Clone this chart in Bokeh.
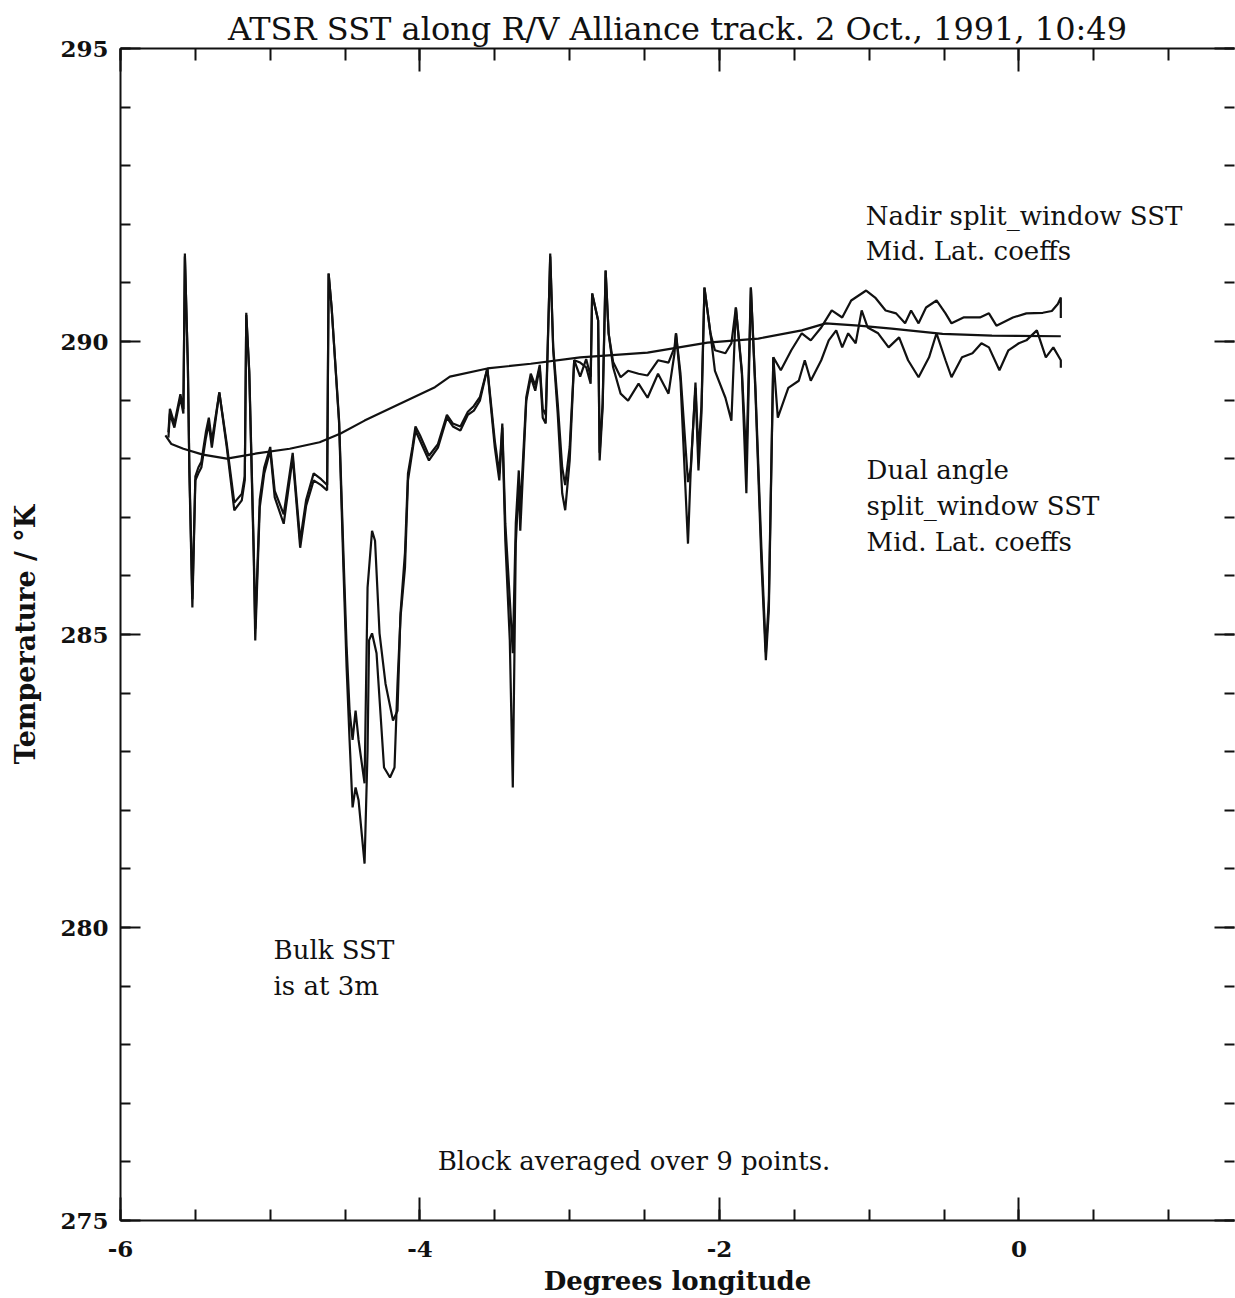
from bokeh.plotting import figure
from bokeh.models import (Range1d, LinearAxis, SingleIntervalTicker, Label,
                          CustomJSTickFormatter, ColumnDataSource)
from bokeh.embed import file_html
from bokeh.resources import INLINE

# ---------------- data (longitude in degrees, temperature in K) -------------
bulk_lon = [-5.70, -5.66, -5.58, -5.45, -5.29, -5.09, -4.87, -4.67, -4.53, -4.37,
            -4.13, -3.90, -3.80, -3.55, -3.26, -2.93, -2.48, -2.08, -1.74, -1.45,
            -1.29, -1.07, -0.85, -0.51, -0.18, 0.28]
bulk_sst = [288.40, 288.25, 288.17, 288.07, 288.00, 288.09, 288.17, 288.28, 288.43, 288.65,
            288.94, 289.22, 289.40, 289.54, 289.62, 289.73, 289.81, 289.98, 290.05, 290.19,
            290.31, 290.27, 290.22, 290.13, 290.10, 290.09]

dual_lon = [-5.68, -5.67, -5.64, -5.60, -5.58, -5.57, -5.55, -5.54, -5.52, -5.50,
            -5.48, -5.46, -5.43, -5.41, -5.39, -5.34, -5.29, -5.24, -5.19, -5.17,
            -5.16, -5.14, -5.11, -5.10, -5.07, -5.04, -5.00, -4.97, -4.91, -4.85,
            -4.80, -4.76, -4.71, -4.66, -4.62, -4.61, -4.59, -4.54, -4.51, -4.49,
            -4.47, -4.45, -4.43, -4.41, -4.37, -4.35, -4.34, -4.32, -4.29, -4.24,
            -4.20, -4.17, -4.15, -4.13, -4.10, -4.08, -4.05, -4.03, -4.00, -3.94,
            -3.88, -3.82, -3.78, -3.73, -3.68, -3.64, -3.60, -3.55, -3.53, -3.50,
            -3.47, -3.45, -3.43, -3.40, -3.38, -3.36, -3.34, -3.33, -3.29, -3.26,
            -3.23, -3.20, -3.18, -3.16, -3.13, -3.11, -3.08, -3.05, -3.03, -3.00,
            -2.97, -2.93, -2.89, -2.86, -2.85, -2.81, -2.80, -2.78, -2.76, -2.74,
            -2.71, -2.66, -2.61, -2.54, -2.48, -2.41, -2.34, -2.30, -2.29, -2.26,
            -2.21, -2.19, -2.16, -2.14, -2.12, -2.10, -2.06, -2.03, -1.96, -1.92,
            -1.89, -1.85, -1.82, -1.79, -1.76, -1.72, -1.69, -1.67, -1.64, -1.61,
            -1.54, -1.47, -1.43, -1.39, -1.32, -1.27, -1.22, -1.18, -1.14, -1.09,
            -1.05, -1.01, -0.94, -0.87, -0.80, -0.74, -0.67, -0.60, -0.55, -0.49,
            -0.45, -0.38, -0.31, -0.25, -0.20, -0.13, -0.07, 0.00, 0.05, 0.12,
            0.18, 0.23, 0.28, 0.28]
dual_sst = [288.36, 288.77, 288.53, 289.04, 288.77, 291.50, 289.56, 287.75, 285.46, 287.63,
            287.75, 287.85, 288.35, 288.60, 288.19, 289.13, 288.19, 287.12, 287.29, 287.63,
            290.49, 289.45, 286.31, 284.90, 287.17, 287.75, 288.14, 287.34, 286.89, 288.02,
            286.48, 287.20, 287.63, 287.55, 287.46, 291.16, 290.58, 288.60, 286.04, 284.44,
            283.19, 282.05, 282.39, 282.17, 281.09, 283.02, 284.90, 285.02, 284.68, 282.73,
            282.56, 282.73, 284.16, 285.29, 286.14, 287.63, 288.14, 288.48, 288.31, 287.97,
            288.19, 288.70, 288.55, 288.48, 288.75, 288.82, 288.99, 289.54, 288.99, 288.19,
            287.63, 288.53, 286.60, 284.90, 282.39, 286.55, 287.60, 286.77, 288.99, 289.39,
            289.16, 289.56, 288.70, 288.60, 291.50, 289.85, 288.77, 287.41, 287.12, 287.97,
            289.68, 289.64, 289.56, 289.28, 290.82, 290.36, 287.97, 288.87, 291.21, 290.14,
            289.56, 289.11, 288.99, 289.28, 289.04, 289.45, 289.11, 289.80, 290.14, 289.33,
            286.55, 287.92, 289.21, 287.80, 288.77, 290.92, 290.14, 289.50, 289.04, 288.65,
            290.58, 289.45, 287.41, 290.92, 289.16, 286.26, 284.56, 285.41, 289.73, 288.70,
            289.21, 289.33, 289.68, 289.33, 289.68, 290.02, 290.19, 289.90, 290.14, 289.97,
            290.53, 290.24, 290.14, 289.90, 290.07, 289.68, 289.39, 289.73, 290.14, 289.68,
            289.39, 289.73, 289.80, 289.97, 289.90, 289.51, 289.85, 289.97, 290.02, 290.19,
            289.73, 289.90, 289.68, 289.55]

nadir_lon = [-5.68, -5.67, -5.64, -5.60, -5.58, -5.57, -5.55, -5.54, -5.52, -5.50,
             -5.48, -5.46, -5.43, -5.41, -5.39, -5.34, -5.29, -5.24, -5.19, -5.17,
             -5.16, -5.14, -5.11, -5.10, -5.07, -5.04, -5.00, -4.97, -4.91, -4.85,
             -4.80, -4.76, -4.71, -4.66, -4.62, -4.61, -4.59, -4.54, -4.51, -4.49,
             -4.47, -4.45, -4.43, -4.41, -4.37, -4.35, -4.32, -4.30, -4.27, -4.23,
             -4.18, -4.15, -4.13, -4.10, -4.08, -4.05, -4.03, -4.00, -3.94, -3.88,
             -3.82, -3.78, -3.73, -3.68, -3.64, -3.60, -3.55, -3.53, -3.50, -3.47,
             -3.45, -3.43, -3.40, -3.38, -3.36, -3.34, -3.33, -3.29, -3.26, -3.23,
             -3.20, -3.18, -3.16, -3.13, -3.11, -3.08, -3.05, -3.03, -3.00, -2.97,
             -2.93, -2.89, -2.86, -2.85, -2.81, -2.80, -2.78, -2.76, -2.74, -2.71,
             -2.66, -2.61, -2.54, -2.48, -2.41, -2.34, -2.30, -2.29, -2.26, -2.21,
             -2.19, -2.16, -2.14, -2.12, -2.10, -2.06, -2.03, -1.96, -1.92, -1.89,
             -1.85, -1.82, -1.79, -1.76, -1.72, -1.69, -1.67, -1.64, -1.59, -1.52,
             -1.45, -1.39, -1.32, -1.25, -1.18, -1.12, -1.02, -0.96, -0.89, -0.82,
             -0.76, -0.72, -0.67, -0.62, -0.55, -0.49, -0.45, -0.37, -0.26, -0.20,
             -0.15, -0.04, 0.05, 0.16, 0.22, 0.26, 0.28, 0.28]
nadir_sst = [288.45, 288.85, 288.60, 289.10, 288.85, 291.45, 289.60, 287.85, 285.60, 287.70,
             287.85, 287.95, 288.45, 288.70, 288.30, 289.13, 288.25, 287.25, 287.40, 287.70,
             290.45, 289.50, 286.45, 285.10, 287.30, 287.85, 288.20, 287.45, 287.05, 288.10,
             286.60, 287.30, 287.75, 287.65, 287.55, 291.16, 290.58, 288.65, 286.30, 284.80,
             283.70, 283.20, 283.70, 283.20, 282.46, 285.80, 286.77, 286.60, 285.02, 284.16,
             283.53, 283.70, 285.36, 286.40, 287.75, 288.20, 288.55, 288.40, 288.05, 288.25,
             288.75, 288.60, 288.55, 288.80, 288.90, 289.05, 289.54, 289.05, 288.30, 287.75,
             288.60, 286.90, 285.60, 284.68, 286.90, 287.80, 287.10, 289.05, 289.45, 289.25,
             289.60, 288.85, 288.75, 291.45, 289.90, 288.95, 287.85, 287.55, 288.20, 289.68,
             289.40, 289.70, 289.40, 290.82, 290.36, 288.10, 288.95, 291.21, 290.14, 289.65,
             289.39, 289.50, 289.45, 289.42, 289.68, 289.64, 289.90, 290.14, 289.45, 287.60,
             287.85, 289.30, 288.10, 288.90, 290.92, 290.14, 289.85, 289.80, 289.97, 290.58,
             289.50, 287.97, 290.92, 289.25, 286.50, 284.70, 285.60, 289.73, 289.51, 289.85,
             290.14, 290.02, 290.24, 290.53, 290.41, 290.70, 290.87, 290.75, 290.53, 290.48,
             290.31, 290.53, 290.31, 290.58, 290.70, 290.48, 290.31, 290.41, 290.41, 290.48,
             290.27, 290.41, 290.48, 290.49, 290.52, 290.64, 290.75, 290.40]

x_major_ticks_interval = 2
y_major_ticks_interval = 5

title_text = "ATSR SST along R/V Alliance track. 2 Oct., 1991, 10:49"
x_label = "Degrees longitude"
y_label = "Temperature / \u00b0K"

# ---------------- figure ----------------
INK = "#111111"
p = figure(width=1235, height=1298, output_backend="svg", toolbar_location=None,
           x_range=Range1d(-6, 1.44), y_range=Range1d(275, 295),
           min_border_left=120, min_border_right=1, min_border_top=48,
           min_border_bottom=78, x_axis_label=x_label, y_axis_label=y_label)
p.background_fill_color = "white"
p.border_fill_color = "white"
p.outline_line_color = None
p.grid.visible = False

p.title.text = title_text
p.title.align = "center"
p.title.text_font = "DejaVu Serif"
p.title.text_font_style = "normal"
p.title.text_font_size = "32px"
p.title.text_color = INK
p.title.standoff = 2
p.title.offset = 0

xt = SingleIntervalTicker(interval=x_major_ticks_interval, num_minor_ticks=4)
yt = SingleIntervalTicker(interval=y_major_ticks_interval, num_minor_ticks=5)


def style_axis(ax, major_in, minor_in):
    ax.axis_line_color = INK
    ax.axis_line_width = 2
    ax.major_tick_line_color = INK
    ax.major_tick_line_width = 2
    ax.minor_tick_line_color = INK
    ax.minor_tick_line_width = 2
    ax.major_tick_in = major_in
    ax.major_tick_out = 0
    ax.minor_tick_in = minor_in
    ax.minor_tick_out = 0
    ax.major_label_text_font = "DejaVu Serif"
    ax.major_label_text_font_style = "bold"
    ax.major_label_text_font_size = "23px"
    ax.major_label_text_color = INK
    ax.axis_label_text_font = "DejaVu Serif"
    ax.axis_label_text_font_style = "bold"
    ax.axis_label_text_font_size = "26px"
    ax.axis_label_text_color = INK


xa = p.xaxis[0]
xa.ticker = xt
style_axis(xa, 23, 11)
xa.major_label_standoff = 20
xa.axis_label_standoff = 6
xa.formatter = CustomJSTickFormatter(code="return tick.toFixed(0)")

ya = p.yaxis[0]
ya.ticker = yt
style_axis(ya, 20, 10)
ya.major_label_standoff = 12
ya.axis_label_standoff = 16
ya.axis_label_text_font_size = "27px"

top = LinearAxis(ticker=SingleIntervalTicker(interval=x_major_ticks_interval, num_minor_ticks=4),
                 formatter=CustomJSTickFormatter(code="return ''"))
style_axis(top, 23, 12)
top.major_label_standoff = 0
top.major_label_text_font_size = "2px"
p.add_layout(top, "above")

right = LinearAxis(ticker=SingleIntervalTicker(interval=y_major_ticks_interval, num_minor_ticks=5),
                   formatter=CustomJSTickFormatter(code="return ''"))
style_axis(right, 20, 10)
right.axis_line_color = None
right.major_label_standoff = 0
right.major_label_text_font_size = "2px"
p.add_layout(right, "right")

# ---------------- data lines ----------------
p.line(x="lon", y="sst", source=ColumnDataSource(dict(lon=bulk_lon, sst=bulk_sst)),
       line_color=INK, line_width=2.2)
p.line(x="lon", y="sst", source=ColumnDataSource(dict(lon=dual_lon, sst=dual_sst)),
       line_color=INK, line_width=2.2)
p.line(x="lon", y="sst", source=ColumnDataSource(dict(lon=nadir_lon, sst=nadir_sst)),
       line_color=INK, line_width=2.2)

# ---------------- annotations ----------------
def note(x, y, text):
    p.add_layout(Label(x=x, y=y, text=text, text_font="DejaVu Serif",
                       text_font_size="26px", text_color=INK,
                       text_baseline="alphabetic", text_align="left"))


note(-1.023, 292.15, "Nadir split_window SST")
note(-1.023, 291.55, "Mid. Lat. coeffs")
note(-1.017, 287.80, "Dual angle")
note(-1.017, 287.20, "split_window SST")
note(-1.017, 286.57, "Mid. Lat. coeffs")
note(-4.978, 279.61, "Bulk SST")
note(-4.978, 279.00, "is at 3m")
note(-3.882, 276.02, "Block averaged over 9 points.")

open("out.html", "w").write(file_html(p, INLINE))
